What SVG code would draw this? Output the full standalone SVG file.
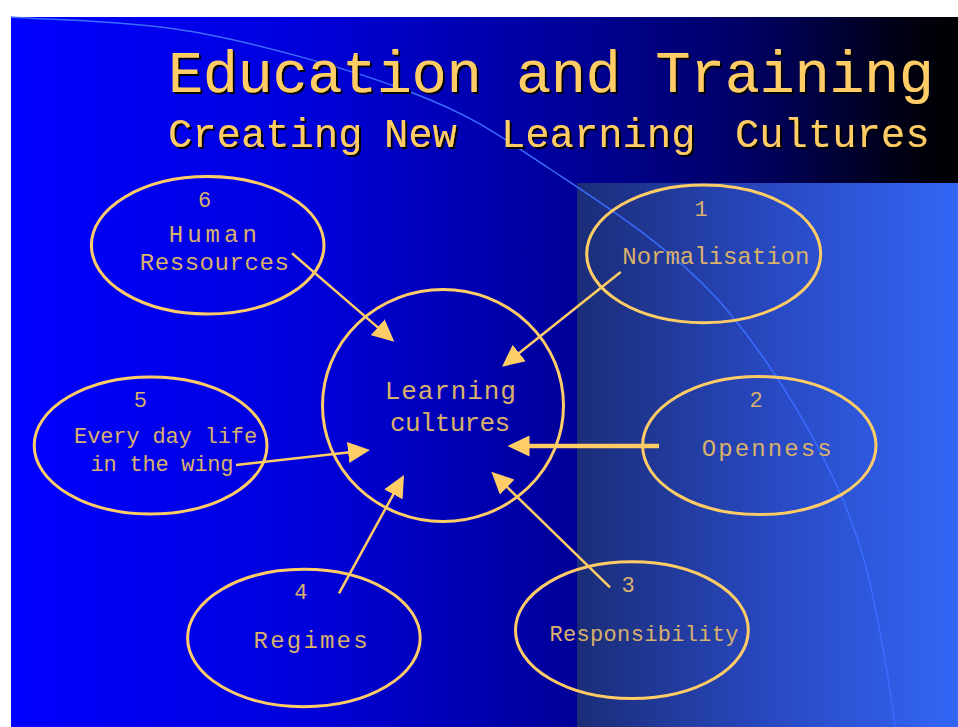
<svg xmlns="http://www.w3.org/2000/svg" width="958" height="727" viewBox="0 0 958 727">
  <defs>
    <linearGradient id="bgGrad" x1="11" y1="0" x2="958" y2="0" gradientUnits="userSpaceOnUse">
      <stop offset="0" stop-color="#0000ff"/>
      <stop offset="0.305" stop-color="#0000dc"/>
      <stop offset="0.58" stop-color="#00009b"/>
      <stop offset="0.78" stop-color="#000064"/>
      <stop offset="0.94" stop-color="#000014"/>
      <stop offset="1" stop-color="#000000"/>
    </linearGradient>
    <linearGradient id="panelGrad" x1="577" y1="0" x2="958" y2="0" gradientUnits="userSpaceOnUse">
      <stop offset="0" stop-color="#1b2d78"/>
      <stop offset="0.5" stop-color="#2848c0"/>
      <stop offset="1" stop-color="#3366f6"/>
    </linearGradient>
    <filter id="drop" x="-5%" y="-20%" width="110%" height="140%">
      <feDropShadow dx="2" dy="2" stdDeviation="0" flood-color="#000000" flood-opacity="1"/>
    </filter>
    <marker id="head" markerUnits="userSpaceOnUse" markerWidth="22" markerHeight="21" refX="4" refY="10.5" orient="auto">
      <path d="M0,0 L22,10.5 L0,21 Z" fill="#ffcc66"/>
    </marker>
    <style>
      .title { font-family: "Liberation Mono", "Courier New", monospace; fill: #ffcc66; filter: url(#drop); }
      .main { font-size: 58.7px; }
      .sub { font-size: 40.5px; }
      .ring { fill: none; stroke: #ffcc66; stroke-width: 3; }
      .lbl { font-family: "Liberation Mono", "Courier New", monospace; fill: #d9b16a; text-anchor: middle; font-size: 24px; }
      .num { font-size: 22px; }
      .sm { font-size: 22px; }
      .big { font-size: 26px; }
      .link { stroke: #ffcc66; stroke-width: 2.5; fill: none; marker-end: url(#head); }
    </style>
  </defs>

  <!-- backdrop -->
  <rect x="0" y="0" width="958" height="727" fill="#ffffff"/>
  <rect x="11" y="17" width="947" height="710" fill="url(#bgGrad)"/>
  <rect x="577" y="183" width="381" height="544" fill="url(#panelGrad)"/>

  <!-- sweeping highlight arc -->
  <path d="M11,17 C42.5,19.7 133,20.3 200,33 C267,45.7 355.2,70.7 413,93 C470.8,115.3 494.7,132 547,167 C599.3,202 677.7,250.8 727,310 C776.3,369 817.5,440 843,500 C866,555 873,595 880,632 C887,670 892,700 895,727" fill="none" stroke="#3a6cff" stroke-width="1.5"/>

  <!-- heading -->
  <g id="heading">
    <text class="title main" x="168" y="92" textLength="766" lengthAdjust="spacing">Education and Training</text>
    <text class="title sub" y="147"><tspan x="168">Creating</tspan><tspan x="384">New</tspan><tspan x="501">Learning</tspan><tspan x="735">Cultures</tspan></text>
  </g>

  <!-- connectors -->
  <g id="connectors">
    <line class="link" x1="292" y1="253.3" x2="380.7" y2="329.9"/>
    <line class="link" x1="620.7" y1="272" x2="516.1" y2="355.5"/>
    <line class="link" x1="659" y1="446" x2="525.5" y2="446" style="stroke-width:4.5"/>
    <line class="link" x1="610" y1="587.4" x2="504.3" y2="484.3"/>
    <line class="link" x1="339" y1="593.3" x2="395.3" y2="490.8"/>
    <line class="link" x1="236" y1="465" x2="352.1" y2="452"/>
  </g>

  <!-- hub -->
  <g id="learning-cultures">
    <ellipse class="ring" cx="443" cy="405.5" rx="120.5" ry="116"/>
    <text class="lbl big" x="450.3" y="399.3" textLength="131" lengthAdjust="spacing">Learning</text>
    <text class="lbl big" x="450" y="430.7" textLength="120" lengthAdjust="spacing">cultures</text>
  </g>

  <g id="node-1">
    <ellipse class="ring" cx="703.7" cy="253.8" rx="117" ry="68.9"/>
    <text class="lbl num" x="701" y="215.5">1</text>
    <text class="lbl" x="715.8" y="264" textLength="187" lengthAdjust="spacing">Normalisation</text>
  </g>

  <g id="node-2">
    <ellipse class="ring" cx="759.3" cy="445.6" rx="116.7" ry="69"/>
    <text class="lbl num" x="756" y="407">2</text>
    <text class="lbl" x="766.7" y="456" textLength="130" lengthAdjust="spacing">Openness</text>
  </g>

  <g id="node-3">
    <ellipse class="ring" cx="631.9" cy="630.2" rx="116.4" ry="68.4"/>
    <text class="lbl num" x="628" y="592">3</text>
    <text class="lbl sm" x="644" y="640.7" textLength="189" lengthAdjust="spacing">Responsibility</text>
  </g>

  <g id="node-4">
    <ellipse class="ring" cx="303.9" cy="638" rx="116.3" ry="68.7"/>
    <text class="lbl num" x="300.8" y="599">4</text>
    <text class="lbl" x="310.6" y="648.3" textLength="114" lengthAdjust="spacing">Regimes</text>
  </g>

  <g id="node-5">
    <ellipse class="ring" cx="150.6" cy="445.5" rx="116.4" ry="68.5"/>
    <text class="lbl num" x="140.4" y="406.7">5</text>
    <text class="lbl sm" x="165.6" y="442.7" textLength="183" lengthAdjust="spacing">Every day life</text>
    <text class="lbl sm" x="162" y="471" textLength="143" lengthAdjust="spacing">in the wing</text>
  </g>

  <g id="node-6">
    <ellipse class="ring" cx="207.7" cy="245.3" rx="116.3" ry="68.7"/>
    <text class="lbl num" x="204.5" y="207">6</text>
    <text class="lbl" x="212.8" y="242" textLength="88" lengthAdjust="spacing">Human</text>
    <text class="lbl" x="214.3" y="270" textLength="149" lengthAdjust="spacing">Ressources</text>
  </g>
</svg>
